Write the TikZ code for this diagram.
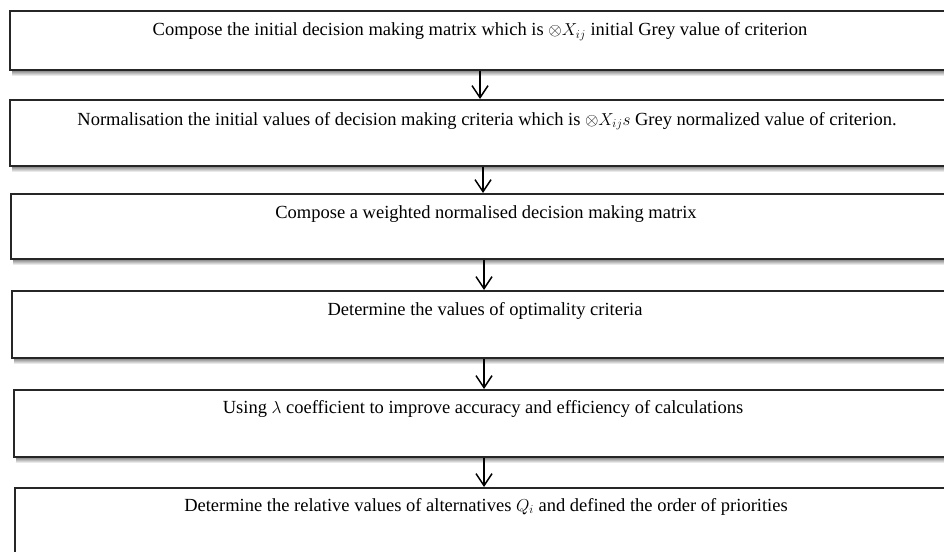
\documentclass[tikz,border=0pt]{standalone}
\usepackage{fontspec}
\setmainfont{Liberation Serif}
\usetikzlibrary{arrows.meta,calc}
\begin{document}
\begin{tikzpicture}[x=1pt,y=-1pt,
  box/.style={draw=black!85,line width=1.6pt,fill=white,rectangle,inner sep=0pt,anchor=north west},
  shade/.style={top color=black!60,bottom color=white,draw=none},
  txt/.style={anchor=base,inner sep=0pt,font=\fontsize{18.5}{20}\selectfont},
  arr/.style={line width=1.5pt,draw=black,-{Straight Barb[length=12pt,width=16pt,line width=1.5pt]}}]
\clip (0,0) rectangle (944,551);
\fill[white] (0,0) rectangle (944,551);
% shadows
\foreach \l/\b in {9/69,9/165,10/258,11/357,13/456}{
  \shade[shade] (\l+3,\b) rectangle (960,\b+7);
}
\node[box,minimum width=990pt,minimum height=59pt] (b1) at (9,10) {};
\node[box,minimum width=990pt,minimum height=66pt] (b2) at (9,99) {};
\node[box,minimum width=990pt,minimum height=65pt] (b3) at (10,193) {};
\node[box,minimum width=990pt,minimum height=67pt] (b4) at (11,290) {};
\node[box,minimum width=990pt,minimum height=67pt] (b5) at (13,389) {};
\node[box,minimum width=990pt,minimum height=90pt] (b6) at (14,487) {};
\node[txt] (t1) at (480,36) {Compose the initial decision making matrix which is $\otimes X_{ij}$ initial Grey value of criterion};
\node[txt] (t2) at (487,125) {Normalisation the initial values of decision making criteria which is $\otimes X_{ij}s$ Grey normalized value of criterion.};
\node[txt] (t3) at (486,218) {Compose a weighted normalised decision making matrix};
\node[txt] (t4) at (485,315) {Determine the values of optimality criteria};
\node[txt] (t5) at (483,413) {Using $\lambda$ coefficient to improve accuracy and efficiency of calculations};
\node[txt] (t6) at (486,511) {Determine the relative values of alternatives $Q_i$ and defined the order of priorities};
\coordinate (a1) at (480,0);
\coordinate (a2) at (483,0);
\coordinate (a3) at (484,0);
\coordinate (a4) at (484,0);
\coordinate (a5) at (484,0);
\draw[arr] (b1.south -| a1) -- (b2.north -| a1);
\draw[arr] (b2.south -| a2) -- (b3.north -| a2);
\draw[arr] (b3.south -| a3) -- (b4.north -| a3);
\draw[arr] (b4.south -| a4) -- (b5.north -| a4);
\draw[arr] (b5.south -| a5) -- (b6.north -| a5);
\end{tikzpicture}
\end{document}
